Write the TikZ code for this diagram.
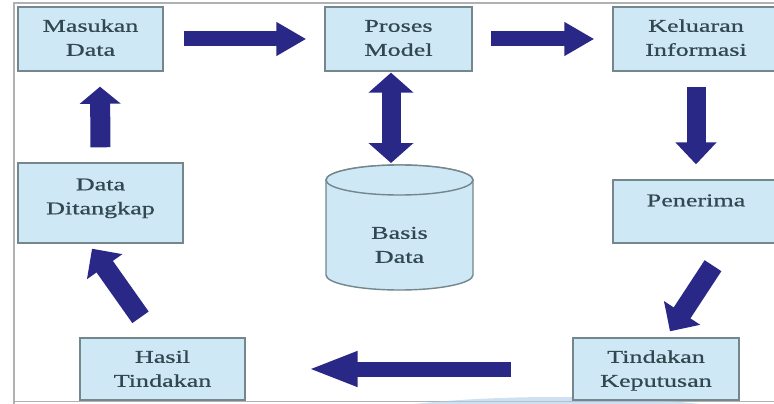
\documentclass[tikz,border=0pt]{standalone}
\usepackage{fontspec}
\usepackage{graphicx}
\setmainfont{Liberation Serif}[FakeBold=0.6]
\usetikzlibrary{arrows.meta}
\definecolor{boxfill}{RGB}{206,232,246}
\definecolor{boxline}{RGB}{115,135,140}
\definecolor{txtcol}{RGB}{50,72,80}
\definecolor{navy}{RGB}{42,40,135}
\definecolor{framecol}{RGB}{175,178,180}
\definecolor{wm}{RGB}{175,203,232}
\newcommand{\wtext}[1]{\scalebox{1.45}[1]{\begin{tabular}{@{}c@{}}#1\end{tabular}}}
\begin{document}
\begin{tikzpicture}[x=1pt,y=-1pt,
  box/.style={draw=boxline, line width=1.4pt, fill=boxfill, inner sep=0pt},
  txt/.style={text=txtcol, font=\fontsize{18}{24}\selectfont, inner sep=0pt},
  arrA/.style={draw=navy, line width=15pt, -{Triangle[length=30pt,width=32pt]}},
  arrB/.style={draw=navy, line width=19pt, -{Triangle[length=22pt,width=40pt]}},
  arrU/.style={draw=navy, line width=20pt, -{Triangle[length=17pt,width=40pt]}},
  arrC/.style={draw=navy, line width=20pt, -{Triangle[length=22pt,width=42pt]}},
  arrD/.style={draw=navy, line width=19pt, {Triangle[length=20pt,width=44pt]}-{Triangle[length=20pt,width=44pt]}},
  arrE/.style={draw=navy, line width=15pt, -{Triangle[length=50pt,width=32pt]}}
]
\useasboundingbox (0,0) rectangle (774,404);
\begin{scope}
\clip (0,0) rectangle (774,404);
% frame
\draw[framecol, line width=2pt] (14,406) -- (14,3.5) -- (776,3.5);
\draw[framecol, line width=1.5pt] (14,401.5) -- (776,401.5);
% faint watermark arc
\fill[wm, opacity=0.6] (557,432) ellipse [x radius=238, y radius=35];

% boxes
\node[box, minimum width=145pt, minimum height=64pt] (masukan) at (90.5,39) {};
\node[txt] (masukanT) at (masukan) {\wtext{Masukan\\Data}};
\node[box, minimum width=147pt, minimum height=64pt] (proses) at (398.5,39) {};
\node[txt] (prosesT) at (proses) {\wtext{Proses\\Model}};
\node[box, minimum width=166pt, minimum height=64pt] (keluaran) at (696,39) {};
\node[txt] (keluaranT) at (keluaran) {\wtext{Keluaran\\Informasi}};
\node[box, minimum width=165pt, minimum height=80pt] (ditangkap) at (100.5,203) {};
\node[txt] (ditangkapT) at ([yshift=5.5pt]ditangkap.center) {\wtext{Data\\Ditangkap}};
\node[box, minimum width=166pt, minimum height=63pt] (penerima) at (696,211.5) {};
\node[txt] (penerimaT) at ([yshift=10pt]penerima.center) {\wtext{Penerima}};
\node[box, minimum width=165pt, minimum height=62pt] (hasil) at (162.5,369) {};
\node[txt] (hasilT) at ([yshift=-1pt]hasil.center) {\wtext{Hasil\\Tindakan}};
\node[box, minimum width=166pt, minimum height=62pt] (tindakan) at (656,369) {};
\node[txt] (tindakanT) at ([yshift=-1pt]tindakan.center) {\wtext{Tindakan\\Keputusan}};

% cylinder
\path[box] (326,180) -- (326,275) arc[start angle=180, end angle=0, x radius=73.5, y radius=15]
  -- (473,180) arc[start angle=0, end angle=-180, x radius=73.5, y radius=15] -- cycle;
\draw[box] (399.5,180) ellipse [x radius=73.5, y radius=15];
\coordinate (basistop) at (399.5,165);
\node[txt] (basisT) at (399.5,246) {\wtext{Basis\\Data}};

% arrows
\draw[arrA] ([xshift=20pt]masukan.east) -- ([xshift=-18pt]proses.west);
\draw[arrA] ([xshift=18pt]proses.east) -- ([xshift=-18pt]keluaran.west);
\draw[arrB] ([yshift=-15pt]keluaran.south) -- ([yshift=15pt]penerima.north);
\draw[arrD] ([shift={(-7.5,1)}]proses.south) -- ([shift={(-8.5,-2)}]basistop);
\draw[arrU] ([yshift=15pt]ditangkap.north) -- ([shift={(9.5,15)}]masukan.south);
\draw[arrC] ([shift={(-22,-20)}]hasil.north) -- ([shift={(-8.5,5)}]ditangkap.south);
\draw[arrC] ([shift={(17,22)}]penerima.south) -- ([shift={(14,-6)}]tindakan.north);
\draw[arrE] ([xshift=-61pt]tindakan.west) -- ([xshift=62pt]hasil.east);
\end{scope}
\end{tikzpicture}
\end{document}
